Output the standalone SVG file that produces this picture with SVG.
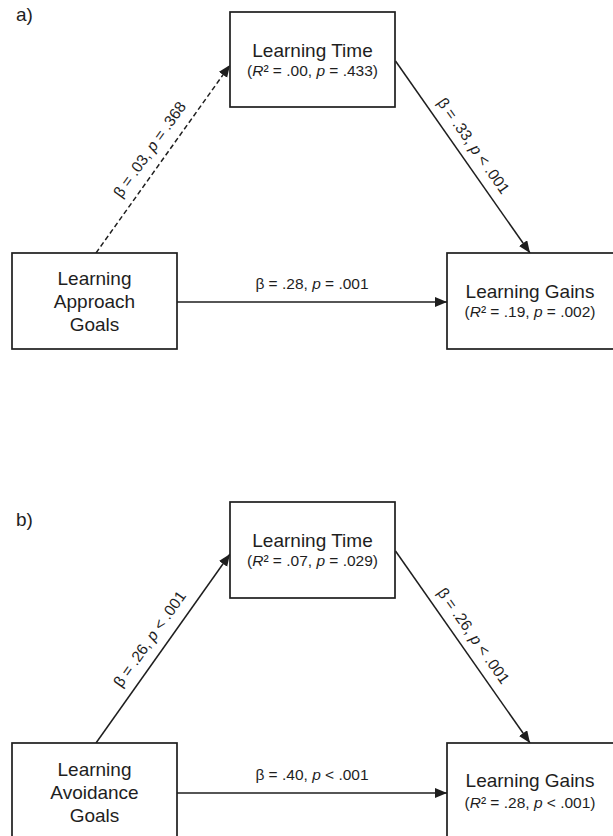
<svg xmlns="http://www.w3.org/2000/svg" width="613" height="836" viewBox="0 0 613 836">
<style>
.box{fill:#fff;stroke:#1e1e1e;stroke-width:1.7}
.t{font-family:"Liberation Sans",Arial,sans-serif;fill:#1e1e1e;text-anchor:middle}
.big{font-size:19px}
.sm{font-size:15.5px}
.i{font-style:italic}
.ln{stroke:#1e1e1e;stroke-width:1.5;fill:none}
.dash{stroke-dasharray:5,3}
</style>
<defs>
<marker id="ah" markerUnits="userSpaceOnUse" markerWidth="13" markerHeight="11" refX="12" refY="5" orient="auto">
<path d="M0,0 L12,5 L0,10 z" fill="#1e1e1e" stroke="none"/>
</marker>
</defs>
<rect width="613" height="836" fill="#fff"/>

<text class="t big" x="16" y="21" style="text-anchor:start">a)</text>
<text class="t big" x="16" y="526" style="text-anchor:start">b)</text>

<g id="connectors">
<line class="ln dash" x1="96" y1="253" x2="230" y2="65" marker-end="url(#ah)"/>
<line class="ln" x1="395.5" y1="61" x2="530" y2="253" marker-end="url(#ah)"/>
<line class="ln" x1="177" y1="302" x2="447" y2="302" marker-end="url(#ah)"/>
<line class="ln" x1="96" y1="743" x2="230" y2="554" marker-end="url(#ah)"/>
<line class="ln" x1="395.5" y1="551" x2="530" y2="743" marker-end="url(#ah)"/>
<line class="ln" x1="177" y1="793" x2="447" y2="793" marker-end="url(#ah)"/>
<text class="t sm" transform="translate(154,152.6) rotate(-54.5)">β = .03, <tspan class="i">p</tspan> = .368</text>
<text class="t sm" transform="translate(469.2,148.8) rotate(55)">β = .33, <tspan class="i">p</tspan> &lt; .001</text>
<text class="t sm" x="312" y="289">β = .28, <tspan class="i">p</tspan> = .001</text>
<text class="t sm" transform="translate(154,642) rotate(-54.7)">β = .26, <tspan class="i">p</tspan> &lt; .001</text>
<text class="t sm" transform="translate(469.2,638.8) rotate(55)">β = .26, <tspan class="i">p</tspan> &lt; .001</text>
<text class="t sm" x="312" y="780">β = .40, <tspan class="i">p</tspan> &lt; .001</text>
</g>

<g id="a-learning-time">
<rect class="box" x="230" y="12" width="165" height="95"/>
<text class="t big" x="312.5" y="57">Learning Time</text>
<text class="t sm" x="312.5" y="75.5">(<tspan class="i">R</tspan>² = .00, <tspan class="i">p</tspan> = .433)</text>
</g>
<g id="a-approach-goals">
<rect class="box" x="12" y="253" width="165" height="96"/>
<text class="t big" x="94.5" y="285">Learning</text>
<text class="t big" x="94.5" y="308">Approach</text>
<text class="t big" x="94.5" y="331">Goals</text>
</g>
<g id="a-learning-gains">
<rect class="box" x="447" y="253" width="168" height="96"/>
<text class="t big" x="530" y="298">Learning Gains</text>
<text class="t sm" x="530" y="317">(<tspan class="i">R</tspan>² = .19, <tspan class="i">p</tspan> = .002)</text>
</g>

<g id="b-learning-time">
<rect class="box" x="230" y="502" width="165" height="96"/>
<text class="t big" x="312.5" y="547">Learning Time</text>
<text class="t sm" x="312.5" y="566">(<tspan class="i">R</tspan>² = .07, <tspan class="i">p</tspan> = .029)</text>
</g>
<g id="b-avoidance-goals">
<rect class="box" x="12" y="743" width="165" height="100"/>
<text class="t big" x="94.5" y="775.5">Learning</text>
<text class="t big" x="94.5" y="798.5">Avoidance</text>
<text class="t big" x="94.5" y="821.5">Goals</text>
</g>
<g id="b-learning-gains">
<rect class="box" x="447" y="743" width="168" height="100"/>
<text class="t big" x="530" y="787">Learning Gains</text>
<text class="t sm" x="530" y="807.5">(<tspan class="i">R</tspan>² = .28, <tspan class="i">p</tspan> &lt; .001)</text>
</g>
</svg>
